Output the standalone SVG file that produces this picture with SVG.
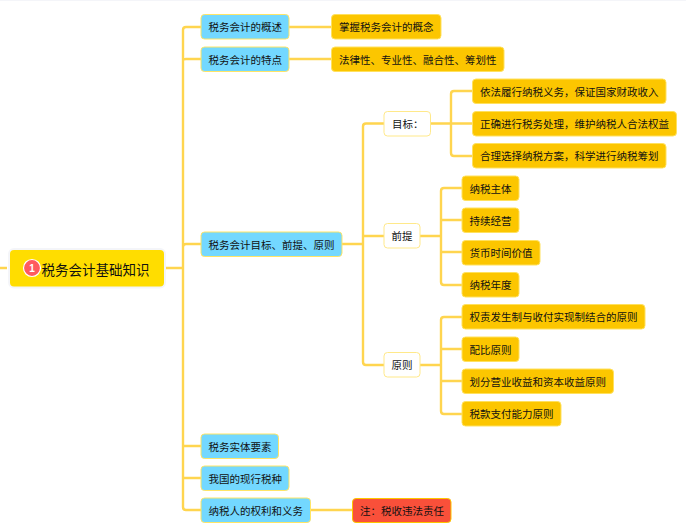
<svg xmlns="http://www.w3.org/2000/svg" width="686" height="529" viewBox="0 0 686 529">
<style>
.n{stroke-width:1;}
.b{fill:#73D8FF;stroke:#FFE566;}
.o{fill:#FCC600;stroke:#FFE15E;}
.w{fill:#fff;stroke:#FFE98A;}
.r{fill:#F9503A;stroke:#FCC600;}
text{font-family:"Noto Sans CJK SC","Liberation Sans",sans-serif;font-size:10.5px;fill:#111;dominant-baseline:central;}
#conn path{fill:none;stroke:#FFD54F;stroke-width:2.4;}
</style>
<rect x="0" y="0" width="686" height="1" fill="#F4F5F9"/>
<g id="conn">
<path d="M0 268H7M166 268H183M183 268V30Q183 27 186 27H201M183 60Q183 59 186 59H201M183 247Q183 244 186 244H201M183 268V507Q183 510 186 510H201M183 446Q183 446 186 446H201M183 478Q183 478 186 478H201"/>
<path d="M289 27H331M289 59H331M311 510H352"/>
<path d="M342 244H363M363 244V126.500Q363 123.500 366 123.500H384M363 236Q363 236 366 236H384M363 244V362Q363 365 366 365H384"/>
<path d="M431 123.500H451M451 123.500V94Q451 91 454 91H472M451 123.500H472M451 123.500V153Q451 156 454 156H472"/>
<path d="M420 236H441M441 236V191Q441 188 444 188H462M441 220Q441 220 444 220H462M441 252Q441 252 444 252H462M441 236V282Q441 285 444 285H462"/>
<path d="M420 365H441M441 365V320Q441 317 444 317H462M441 349Q441 349 444 349H462M441 381Q441 381 444 381H462M441 365V411Q441 414 444 414H462"/>
</g>
<g id="root"><rect x="9" y="249" width="156" height="38.500" rx="5" fill="#FFDD00" stroke="#F4F5F9" stroke-width="2"/><circle cx="32" cy="268" r="8.500" fill="#FF5A5F" stroke="#fff" stroke-width="1.200"/><text x="32" y="268.500" text-anchor="middle" style="font-size:10px;font-weight:700;fill:#fff;font-family:'Liberation Sans',sans-serif">1</text><text x="41.500" y="268.500" style="font-size:13.500px">税务会计基础知识</text></g>
<g id="n1"><rect class="n b" x="201" y="14.500" width="88" height="24.500" rx="3.500"/><text x="208.500" y="26.500">税务会计的概述</text></g>
<g id="n2"><rect class="n b" x="201" y="47" width="88" height="24.500" rx="3.500"/><text x="208.500" y="59">税务会计的特点</text></g>
<g id="n3"><rect class="n b" x="201" y="232" width="141" height="24.500" rx="3.500"/><text x="208.500" y="244">税务会计目标、前提、原则</text></g>
<g id="n4"><rect class="n b" x="201" y="434" width="77.500" height="24.500" rx="3.500"/><text x="208.500" y="446">税务实体要素</text></g>
<g id="n5"><rect class="n b" x="201" y="466" width="88" height="24.500" rx="3.500"/><text x="208.500" y="478">我国的现行税种</text></g>
<g id="n6"><rect class="n b" x="201" y="498" width="109.500" height="24.500" rx="3.500"/><text x="208.500" y="510">纳税人的权利和义务</text></g>
<g id="o1"><rect class="n o" x="331.500" y="14.500" width="109.500" height="24.500" rx="3.500"/><text x="339" y="26.500">掌握税务会计的概念</text></g>
<g id="o2"><rect class="n o" x="331.500" y="47" width="172.500" height="24.500" rx="3.500"/><text x="339" y="59">法律性、专业性、融合性、筹划性</text></g>
<g id="w1"><rect class="n w" x="384" y="111.500" width="46.500" height="24.500" rx="3.500"/><text x="392" y="123.500">目标：</text></g>
<g id="w2"><rect class="n w" x="384" y="223.500" width="36" height="24.500" rx="3.500"/><text x="391.500" y="235.500">前提</text></g>
<g id="w3"><rect class="n w" x="384" y="352.500" width="36" height="24.500" rx="3.500"/><text x="391.500" y="364.500">原则</text></g>
<g id="a1"><rect class="n o" x="472.500" y="79" width="193.500" height="24.500" rx="3.500"/><text x="480" y="91">依法履行纳税义务，保证国家财政收入</text></g>
<g id="a2"><rect class="n o" x="472.500" y="111.500" width="204" height="24.500" rx="3.500"/><text x="480" y="123.500">正确进行税务处理，维护纳税人合法权益</text></g>
<g id="a3"><rect class="n o" x="472.500" y="143.500" width="193.500" height="24.500" rx="3.500"/><text x="480" y="155.500">合理选择纳税方案，科学进行纳税筹划</text></g>
<g id="p1"><rect class="n o" x="462" y="176" width="57" height="24.500" rx="3.500"/><text x="469.500" y="188">纳税主体</text></g>
<g id="p2"><rect class="n o" x="462" y="208" width="57" height="24.500" rx="3.500"/><text x="469.500" y="220">持续经营</text></g>
<g id="p3"><rect class="n o" x="462" y="240.500" width="78" height="24.500" rx="3.500"/><text x="469.500" y="252.500">货币时间价值</text></g>
<g id="p4"><rect class="n o" x="462" y="272.500" width="57" height="24.500" rx="3.500"/><text x="469.500" y="284.500">纳税年度</text></g>
<g id="q1"><rect class="n o" x="462" y="304.500" width="183" height="24.500" rx="3.500"/><text x="469.500" y="316.500">权责发生制与收付实现制结合的原则</text></g>
<g id="q2"><rect class="n o" x="462" y="337" width="57" height="24.500" rx="3.500"/><text x="469.500" y="349">配比原则</text></g>
<g id="q3"><rect class="n o" x="462" y="369" width="151.500" height="24.500" rx="3.500"/><text x="469.500" y="381">划分营业收益和资本收益原则</text></g>
<g id="q4"><rect class="n o" x="462" y="401.500" width="99" height="24.500" rx="3.500"/><text x="469.500" y="413.500">税款支付能力原则</text></g>
<g id="note"><rect class="n r" x="352.500" y="498.500" width="98.500" height="24" rx="3.500"/><text x="360" y="510">注：税收违法责任</text></g>
</svg>
